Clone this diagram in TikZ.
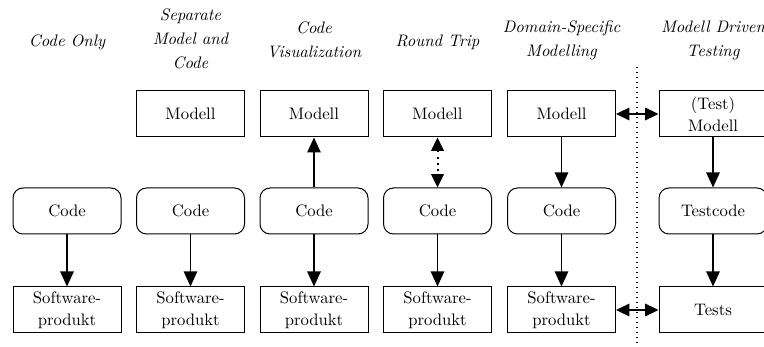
\documentclass[tikz,border=0pt]{standalone}
\usetikzlibrary{arrows.meta}
\begin{document}
\begin{tikzpicture}[x=0.6pt, y=-0.6pt,
  box/.style={draw, line width=0.6pt, minimum width=64.8pt, minimum height=27.6pt,
    inner sep=0pt, align=center, font=\fontsize{10}{13.2}\selectfont},
  codebox/.style={box, rounded corners=6pt},
  head/.style={align=center, font=\fontsize{10}{14.4}\selectfont\itshape},
  flow/.style={line width=1pt, -{Triangle[length=9pt,width=8pt]}},
  twoway/.style={line width=1pt, {Triangle[length=8pt,width=7.5pt]}-{Triangle[length=8pt,width=7.5pt]}},
  roundtrip/.style={twoway, line width=1.2pt, dash pattern=on 1.2pt off 2.6pt},
  separator/.style={line width=0.8pt, dash pattern=on 0.8pt off 2.2pt}]
  \clip (0,0) rectangle (764,347);

  % column headings
  \node[head] (h1) at (67,42)    {Code Only};
  \node[head] (h2) at (190.5,39) {Separate\\Model and\\Code};
  \node[head] (h3) at (314,40)   {Code\\Visualization};
  \node[head] (h4) at (437.5,42) {Round Trip};
  \node[head] (h5) at (561.5,40) {Domain-Specific\\Modelling};
  \node[head] (h6) at (713,40)   {Modell Driven\\Testing};

  % model row
  \node[box] (m2) at (190.5,114) {Modell};
  \node[box] (m3) at (314,114)   {Modell};
  \node[box] (m4) at (437.5,114) {Modell};
  \node[box] (m5) at (561.5,114) {Modell};
  \node[box] (m6) at (713,114)   {(Test)\\Modell};

  % code row
  \node[codebox] (c1) at (67,211)    {Code};
  \node[codebox] (c2) at (190.5,211) {Code};
  \node[codebox] (c3) at (314,211)   {Code};
  \node[codebox] (c4) at (437.5,211) {Code};
  \node[codebox] (c5) at (561.5,211) {Code};
  \node[codebox] (c6) at (713,211)   {Testcode};

  % product row
  \node[box] (p1) at (67,310)    {Software-\\produkt};
  \node[box] (p2) at (190.5,310) {Software-\\produkt};
  \node[box] (p3) at (314,310)   {Software-\\produkt};
  \node[box] (p4) at (437.5,310) {Software-\\produkt};
  \node[box] (p5) at (561.5,310) {Software-\\produkt};
  \node[box] (p6) at (713,310)   {Tests};

  % separator between development and testing
  \coordinate (sTop) at (637,67);
  \coordinate (sBot) at (637,352);
  \draw[separator] (sTop) -- (sBot);

  % connectors
  \draw[flow] (c1) -- (p1);
  \draw[flow] (c2) -- (p2);
  \draw[flow] (c3) -- (m3);
  \draw[flow] (c3) -- (p3);
  \draw[roundtrip] (m4) -- (c4);
  \draw[flow] (c4) -- (p4);
  \draw[flow] (m5) -- (c5);
  \draw[flow] (c5) -- (p5);
  \draw[flow] (m6) -- (c6);
  \draw[flow] (c6) -- (p6);
  \draw[twoway] (m5) -- (m6);
  \draw[twoway] (p5) -- (p6);
\end{tikzpicture}
\end{document}
